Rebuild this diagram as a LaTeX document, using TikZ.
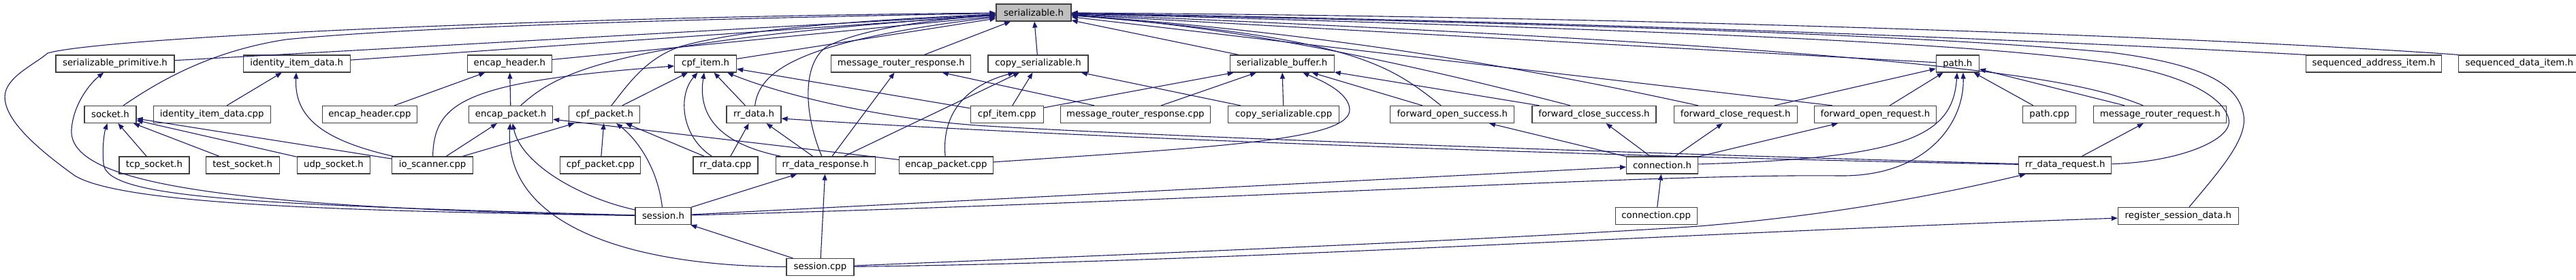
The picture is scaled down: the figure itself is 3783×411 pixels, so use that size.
\documentclass[tikz,border=0pt]{standalone}
\usepackage{fontspec}
\setmainfont{DejaVu Sans}
\usetikzlibrary{positioning,arrows.meta}
\definecolor{edgeblue}{HTML}{191970}
\definecolor{boxgray}{HTML}{404040}
\definecolor{rootfill}{HTML}{BFBFBF}

\begin{document}
\begin{tikzpicture}[x=1pt,y=-1pt,
		filenode/.style={rectangle,draw=boxgray,line width=1.2pt,fill=white,inner sep=0pt,minimum height=25pt,font=\fontsize{13.3}{16}\selectfont},
		rootnode/.style={filenode,fill=rootfill},
		inc/.style={draw=edgeblue,line width=1.1pt,-{Triangle[length=9pt,width=7pt]}}]
		\useasboundingbox[fill=white] (0,0) rectangle (3783,411);

		\node[rootnode,minimum width=110pt] at (1518,18.5)								(ser)	{serializable.h};

		\node[filenode,minimum width=174pt] at (169,93.5)								(prim)	{serializable\_primitive.h};
		\node[filenode,minimum width=157pt,node distance=100pt,right=of prim]		(iidh)	{identity\_item\_data.h};
		\node[filenode,minimum width=124pt,node distance=171pt,right=of iidh]		(ehh)	{encap\_header.h};
		\node[filenode,minimum width=91pt,node distance=179pt,right=of ehh]			(cih)	{cpf\_item.h};
		\node[filenode,minimum width=205pt,node distance=138pt,right=of cih]		(mrrh)	{message\_router\_response.h};
		\node[filenode,minimum width=147pt,node distance=24pt,right=of mrrh]		(csh)	{copy\_serializable.h};
		\node[filenode,minimum width=153pt,node distance=207pt,right=of csh]		(sbh)	{serializable\_buffer.h};
		\node[filenode,minimum width=63pt,node distance=883pt,right=of sbh]			(pathh)	{path.h};
		\node[filenode,minimum width=199pt,node distance=479pt,right=of pathh]		(sai)	{sequenced\_address\_item.h};
		\node[filenode,minimum width=178pt,node distance=24pt,right=of sai]			(sdi)	{sequenced\_data\_item.h};

		\node[filenode,minimum width=76pt] at (162,168)									(sock)	{socket.h};
		\node[filenode,minimum width=172pt,node distance=24pt,right=of sock]		(iidc)	{identity\_item\_data.cpp};
		\node[filenode,minimum width=139pt,node distance=75pt,right=of iidc]		(ehc)	{encap\_header.cpp};
		\node[filenode,minimum width=123pt,node distance=75pt,right=of ehc]			(eph)	{encap\_packet.h};
		\node[filenode,minimum width=104pt,node distance=23pt,right=of eph]			(cph)	{cpf\_packet.h};
		\node[filenode,minimum width=80pt,node distance=126pt,right=of cph]			(rdh)	{rr\_data.h};
		\node[filenode,minimum width=107pt,node distance=277pt,right=of rdh]		(cic)	{cpf\_item.cpp};
		\node[filenode,minimum width=220pt,node distance=24pt,right=of cic]			(mrrc)	{message\_router\_response.cpp};
		\node[filenode,minimum width=163pt,node distance=25pt,right=of mrrc]		(csc)	{copy\_serializable.cpp};
		\node[filenode,minimum width=182pt,node distance=74pt,right=of csc]			(fos)	{forward\_open\_success.h};
		\node[filenode,minimum width=182pt,node distance=25pt,right=of fos]			(fcs)	{forward\_close\_success.h};
		\node[filenode,minimum width=181pt,node distance=25pt,right=of fcs]			(fcr)	{forward\_close\_request.h};
		\node[filenode,minimum width=179pt,node distance=24pt,right=of fcr]			(forq)	{forward\_open\_request.h};
		\node[filenode,minimum width=78pt,node distance=126pt,right=of forq]		(pathc)	{path.cpp};
		\node[filenode,minimum width=195pt,node distance=25pt,right=of pathc]		(mrq)	{message\_router\_request.h};

		\node[filenode,minimum width=103pt] at (226.5,242.5)							(tcp)	{tcp\_socket.h};
		\node[filenode,minimum width=108pt,node distance=23pt,right=of tcp]			(test)	{test\_socket.h};
		\node[filenode,minimum width=107pt,node distance=25pt,right=of test]		(udp)	{udp\_socket.h};
		\node[filenode,minimum width=119pt,node distance=31pt,right=of udp]			(ios)	{io\_scanner.cpp};
		\node[filenode,minimum width=118pt,node distance=127pt,right=of ios]		(cpc)	{cpf\_packet.cpp};
		\node[filenode,minimum width=95pt,node distance=76pt,right=of cpc]			(rdc)	{rr\_data.cpp};
		\node[filenode,minimum width=146pt,node distance=25pt,right=of rdc]			(rdrs)	{rr\_data\_response.h};
		\node[filenode,minimum width=138pt,node distance=34pt,right=of rdrs]		(epc)	{encap\_packet.cpp};
		\node[filenode,minimum width=105pt,node distance=929pt,right=of epc]		(conh)	{connection.h};
		\node[filenode,minimum width=136pt,node distance=470pt,right=of conh]		(rdrq)	{rr\_data\_request.h};

		\node[filenode,minimum width=82pt] at (974,317)									(sesh)	{session.h};
		\node[filenode,minimum width=120pt,node distance=1356pt,right=of sesh]		(conc)	{connection.cpp};
		\node[filenode,minimum width=177pt,node distance=617pt,right=of conc]		(rsd)	{register\_session\_data.h};

		\node[filenode,minimum width=99pt] at (1204.5,392)								(sesc)	{session.cpp};

		% into serializable.h
		\draw[inc] (sesh) .. controls (500,310) and (180,300) .. (110,258) .. controls (50,215) and (0,170) .. (8,135) .. controls (15,110) and (50,95) .. (70,78) .. controls (150,55) and (800,25) .. (ser);
		\draw[inc] (sock) .. controls (235,118) and (310,75) .. (420,58) .. controls (600,40) and (1000,28) .. (ser);
		\draw[inc] (prim) -- (ser);
		\draw[inc] (iidh) -- (ser);
		\draw[inc] (ehh) -- (ser);
		\draw[inc] (cih) -- (ser);
		\draw[inc] (mrrh) -- (ser);
		\draw[inc] (csh) -- (ser);
		\draw[inc] (eph) .. controls (820,105) and (900,60) .. (ser);
		\draw[inc] (cph) .. controls (925,120) and (950,85) .. (1000,68) .. controls (1100,40) and (1300,28) .. (ser);
		\draw[inc] (rdh) .. controls (1115,105) and (1170,60) .. (ser);
		\draw[inc] (rdrs) .. controls (1178,160) and (1180,90) .. (1215,68) .. controls (1260,45) and (1350,30) .. (ser);
		\draw[inc] (sbh) -- (ser);
		\draw[inc] (fos) .. controls (2040,95) and (1990,55) .. (ser);
		\draw[inc] ([xshift=-35pt]fcs.north) .. controls (1960,65) and (1750,35) .. (ser);
		\draw[inc] ([xshift=-55pt]fcr.north) .. controls (2200,90) and (1900,45) .. (ser);
		\draw[inc] ([xshift=-63pt]forq.north) -- (ser);
		\draw[inc] (pathh) -- (ser);
		\draw[inc] ([xshift=-25pt]mrq.north) .. controls (3060,120) and (2900,75) .. (ser);
		\draw[inc] (rdrq) .. controls (3200,238) and (3280,205) .. (3273,175) .. controls (3265,140) and (3200,105) .. (3080,90) .. controls (2900,65) and (2500,45) .. (ser);
		\draw[inc] ([xshift=16pt]rsd.north) .. controls (3260,250) and (3300,205) .. (3295,170) .. controls (3288,125) and (3240,95) .. (3100,77) .. controls (2800,50) and (2300,35) .. (ser);
		\draw[inc] (sai.north west) .. controls (3100,65) and (2500,35) .. (ser);
		\draw[inc] (sdi.north west) .. controls (3300,58) and (2500,25) .. (ser);

		% left part
		\draw[inc] (sesh) .. controls (300,305) and (100,265) .. (105,190) .. controls (108,150) and (135,120) .. (prim);
		\draw[inc] (sesh) .. controls (350,300) and (155,290) .. (152,240) .. controls (150,215) and (153,195) .. (sock);
		\draw[inc] (tcp) -- (sock);
		\draw[inc] (test) -- (sock);
		\draw[inc] (udp) -- (sock);
		\draw[inc] (ios) -- (sock);
		\draw[inc] (iidc) -- (iidh);
		\draw[inc] (ios) .. controls (470,205) and (432,170) .. (iidh);
		\draw[inc] (ehc) -- (ehh);
		\draw[inc] (eph) -- (ehh);
		\draw[inc] (ios) -- (eph);
		\draw[inc] (ios) -- (cph);
		\draw[inc] (ios) .. controls (638,150) and (680,120) .. (cih);
		\draw[inc] (epc) -- (eph);
		\draw[inc] (sesh) .. controls (850,290) and (765,240) .. (eph);
		\draw[inc] (sesc) .. controls (900,390) and (740,320) .. (eph);
		\draw[inc] (cpc) -- (cph);
		\draw[inc] (rdc) -- (cph);
		\draw[inc] (sesh) .. controls (965,240) and (930,200) .. (cph);
		\draw[inc] (cph) -- (cih);
		\draw[inc] (rdh) -- (cih);
		\draw[inc] (rdc) .. controls (1000,200) and (995,140) .. (cih);
		\draw[inc] (rdrs) .. controls (1050,210) and (1025,165) .. (cih);
		\draw[inc] (cic) -- (cih);
		\draw[inc] (rdrq) .. controls (2300,222) and (1700,200) .. (1450,185) .. controls (1300,176) and (1150,140) .. (cih);
		\draw[inc] (rdc) -- (rdh);
		\draw[inc] (rdrs) -- (rdh);
		\draw[inc] (rdrq) .. controls (2600,235) and (1700,210) .. ([yshift=-6pt]rdh.east);

		% middle part
		\draw[inc] (rdrs) -- (mrrh);
		\draw[inc] (mrrc) -- (mrrh);
		\draw[inc] (rdrs) -- (csh);
		\draw[inc] (epc) .. controls (1383,175) and (1410,128) .. ([xshift=-35pt]csh.south);
		\draw[inc] (cic) -- (csh);
		\draw[inc] (csc) -- (csh);
		\draw[inc] (cic) -- (sbh);
		\draw[inc] (mrrc) -- (sbh);
		\draw[inc] (csc) -- (sbh);
		\draw[inc] (epc) .. controls (1800,215) and (1985,205) .. (1982,160) .. controls (1980,135) and (1940,118) .. (sbh);
		\draw[inc] (fos) -- (sbh);
		\draw[inc] (fcs) -- (sbh);

		% session
		\draw[inc] (sesh) -- (rdrs);
		\draw[inc] (sesh) -- (conh);
		\draw[inc] (sesh) .. controls (1800,295) and (2400,255) .. (2700,258) .. controls (2830,260) and (2885,180) .. ([xshift=8pt]pathh.south);
		\draw[inc] (sesc) -- (sesh);
		\draw[inc] (sesc) -- (rdrs);
		\draw[inc] (sesc) .. controls (1600,376) and (2200,352) .. (2495,332) .. controls (2700,315) and (2850,285) .. ([xshift=-58pt]rdrq.south);
		\draw[inc] (sesc) .. controls (1800,385) and (2400,345) .. (rsd);

		% right part
		\draw[inc] (conc) -- (conh);
		\draw[inc] (conh) -- (fos);
		\draw[inc] (conh) -- (fcs);
		\draw[inc] (conh) -- (fcr);
		\draw[inc] (conh) -- (forq);
		\draw[inc] (conh) .. controls (2800,232) and (2868,200) .. (pathh);
		\draw[inc] (fcr) -- (pathh);
		\draw[inc] (forq) -- (pathh);
		\draw[inc] (pathc) -- (pathh);
		\draw[inc] (mrq) -- (pathh);
		\draw[inc] (rdrq) -- (mrq);
	\end{tikzpicture}
\end{document}
